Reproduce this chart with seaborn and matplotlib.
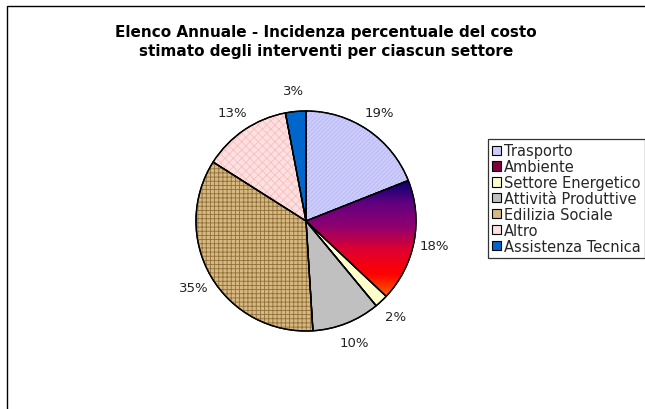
import numpy as np
import seaborn as sns
import matplotlib.pyplot as plt
from matplotlib.patches import Rectangle, Patch, Wedge
from matplotlib.colors import LinearSegmentedColormap

sns.set_theme(style='white')
plt.rcParams['font.family'] = ['DejaVu Sans']
plt.rcParams['hatch.linewidth'] = 0.6

# data
sectors = ['Trasporto', 'Ambiente', 'Settore Energetico', 'Attività Produttive',
           'Edilizia Sociale', 'Altro', 'Assistenza Tecnica']
shares = [19, 18, 2, 10, 35, 13, 3]
colors = ['#CCCCFF', '#800080', '#FFFFCC', '#C0C0C0', '#D6B880', '#FFE0E0', '#0066CC']
title = 'Elenco Annuale - Incidenza percentuale del costo\nstimato degli interventi per ciascun settore'

W, H = 645, 410
fig = plt.figure(figsize=(W / 100, H / 100), dpi=100)
ax = fig.add_axes([0, 0, 1, 1])
ax.set_xlim(0, W)
ax.set_ylim(0, H)
ax.set_aspect('equal')
ax.axis('off')

# chart frame (right and bottom edges fall outside the image)
ax.add_patch(Rectangle((7, -10), W + 20, H - 7 + 10, fill=False, edgecolor='black', lw=1.0))

cx, cy, r = 306, H - 222, 110
wedges, texts, autotexts = ax.pie(
    shares, colors=colors, startangle=90, counterclock=False,
    center=(cx, cy), radius=r, autopct='%.0f%%', pctdistance=1.19,
    wedgeprops=dict(edgecolor='black', linewidth=1.0),
    textprops=dict(fontsize=9.5, color='#222222'))
ax.set_xlim(0, W)
ax.set_ylim(0, H)

# Ambiente: vertical gradient navy -> purple -> red -> orange
amb = wedges[1]
grad = LinearSegmentedColormap.from_list('amb', ['#000070', '#600080', '#900070', '#E00030', '#FF0000', '#FF6600'])
im = ax.imshow(np.linspace(0, 1, 256).reshape(-1, 1), cmap=grad, aspect='auto',
               extent=(cx, cx + r, cy - r * 0.7, cy + r * 0.38), origin='upper', zorder=amb.get_zorder())
im.set_clip_path(amb)

# textures for a few slices
texture = {0: ('////////', '#B8B8F0'), 4: ('++++', '#8F6F3A'), 5: ('xxxx', '#F4C0C0')}
for i, (hatch, hc) in texture.items():
    w = wedges[i]
    ax.add_patch(Wedge((cx, cy), r, w.theta1, w.theta2, facecolor='none', edgecolor=hc,
                       linewidth=0, hatch=hatch, zorder=w.get_zorder() + 0.1))
# redraw outlines on top
for w in wedges:
    ax.add_patch(Wedge((cx, cy), r, w.theta1, w.theta2, fill=False, edgecolor='black', lw=1.0, zorder=5))
ax.set_xlim(0, W)
ax.set_ylim(0, H)

ax.text(326, H - 42, title, ha='center', va='center', fontsize=11, fontweight='bold',
        linespacing=1.3, color='black')

handles = [Patch(facecolor=c, edgecolor='black', linewidth=0.8) for c in colors]
handles[1] = Patch(facecolor='#800040', edgecolor='black', linewidth=0.8)
leg = ax.legend(handles, sectors, loc='upper left', bbox_to_anchor=(488 / W, 1 - 140 / H),
                frameon=True, fancybox=False, edgecolor='black', fontsize=10.5,
                handlelength=0.6, handleheight=0.6, handletextpad=0.2,
                labelspacing=0.06, borderpad=0.3, borderaxespad=0)
leg.get_frame().set_linewidth(0.9)

fig.savefig('out.png', dpi=100)
